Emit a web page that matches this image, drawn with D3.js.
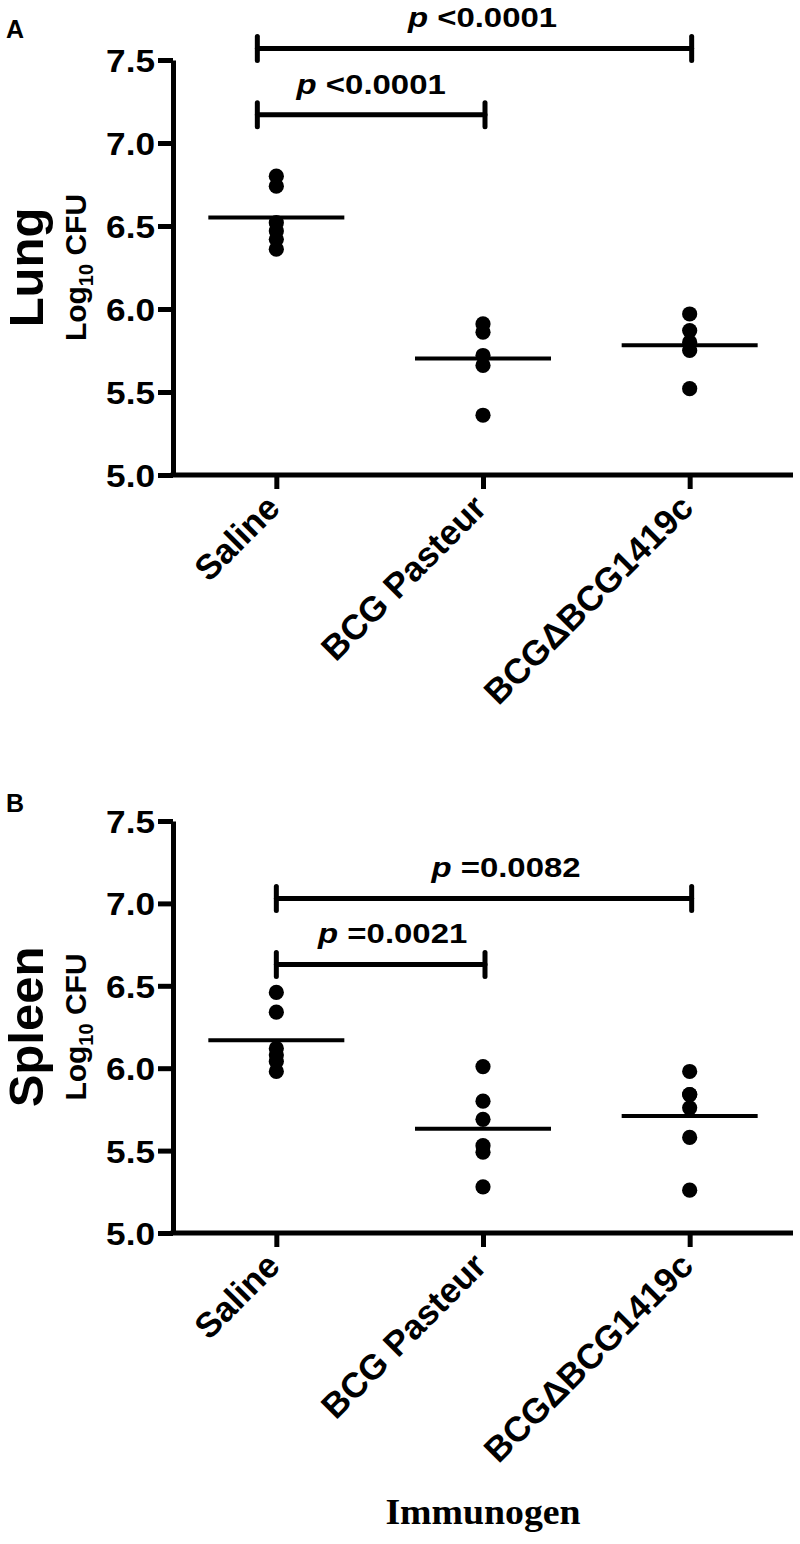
<!DOCTYPE html>
<html>
<head>
<meta charset="utf-8">
<script src="https://cdn.jsdelivr.net/npm/d3@7/dist/d3.min.js"></script>
<style>
  html, body { margin: 0; padding: 0; background: #fff; }
  svg { display: block; }
</style>
</head>
<body>
<svg id="chart" width="800" height="1544"></svg>
<script>
// ---------------- DATA ----------------
const categories = ["Saline", "BCG Pasteur", "BCGΔBCG1419c"];
const yTicks = [5.0, 5.5, 6.0, 6.5, 7.0, 7.5];

// Panel A – Lung (Log10 CFU)
const lungSaline  = [6.80, 6.74, 6.52, 6.47, 6.42, 6.36];
const lungPasteur = [5.91, 5.86, 5.72, 5.66, 5.36];
const lungDelta   = [5.97, 5.87, 5.80, 5.75, 5.52];

// Panel B – Spleen (Log10 CFU)
const spleenSaline  = [6.46, 6.34, 6.12, 6.08, 6.04, 5.98];
const spleenPasteur = [6.01, 5.80, 5.69, 5.53, 5.49, 5.28];
const spleenDelta   = [5.98, 5.84, 5.84, 5.76, 5.58, 5.26];

// Significance comparisons (bracket level in Log10 CFU units)
const lungComparisons = [
  { from: "Saline", to: "BCGΔBCG1419c", level: 7.57, op: "<", p: "0.0001" },
  { from: "Saline", to: "BCG Pasteur",  level: 7.17, op: "<", p: "0.0001" }
];
const spleenComparisons = [
  { from: "Saline", to: "BCGΔBCG1419c", level: 7.03, op: "=", p: "0.0082" },
  { from: "Saline", to: "BCG Pasteur",  level: 6.63, op: "=", p: "0.0021" }
];

const panelLetters = ["A", "B"];
const organs = ["Lung", "Spleen"];
const xTitle = "Immunogen";

// ---------------- DRAW ----------------
const svg = d3.select("#chart");
const SANS = "'Liberation Sans', Arial, sans-serif";

const panels = [
  { letter: panelLetters[0], organ: organs[0], groups: [lungSaline, lungPasteur, lungDelta],
    comps: lungComparisons, top: 60, bottom: 475, letterY: 38, bracketShift: -19, textShift: [8, 0] },
  { letter: panelLetters[1], organ: organs[1], groups: [spleenSaline, spleenPasteur, spleenDelta],
    comps: spleenComparisons, top: 821, bottom: 1233, letterY: 812, bracketShift: 0, textShift: [22, 12] }
];

const x = d3.scalePoint().domain(categories).range([173, 793]).padding(0.5);

panels.forEach(P => {
  const y = d3.scaleLinear().domain([5, 7.5]).range([P.bottom, P.top]);
  const g = svg.append("g");

  // panel letter
  g.append("text").attr("x", 6).attr("y", P.letterY)
    .attr("font-family", SANS).attr("font-weight", "bold").attr("font-size", 25)
    .text(P.letter);

  // Y axis
  const yAxis = g.append("g").attr("transform", "translate(173,0)")
    .call(d3.axisLeft(y).tickValues(yTicks).tickFormat(d3.format(".1f")).tickSize(15).tickSizeOuter(0));
  yAxis.select(".domain").attr("stroke-width", 5).attr("stroke", "#000");
  yAxis.selectAll(".tick line").attr("stroke-width", 5).attr("stroke", "#000");
  const sxT = 1.1;
  yAxis.selectAll(".tick text")
    .attr("font-family", SANS).attr("font-weight", "bold").attr("font-size", 32)
    .attr("fill", "#000")
    .attr("x", -18 / sxT).attr("dy", "0.36em")
    .attr("transform", `scale(${sxT},1)`);

  // X axis
  const xAxis = g.append("g").attr("transform", `translate(0,${P.bottom})`)
    .call(d3.axisBottom(x).tickSize(14).tickSizeOuter(0));
  xAxis.select(".domain").attr("stroke-width", 5).attr("stroke", "#000")
    .attr("d", `M170.5,0H793`);
  xAxis.selectAll(".tick line").attr("stroke-width", 5).attr("stroke", "#000");
  xAxis.selectAll(".tick text").remove();
  xAxis.selectAll(".tick").append("text")
    .attr("font-family", SANS).attr("font-weight", "bold").attr("font-size", 35)
    .attr("fill", "#000").attr("text-anchor", "end")
    .attr("transform", "translate(5,35) rotate(-45)")
    .text(d => d);

  // Y title: organ + Log10 CFU
  const cy = (P.top + P.bottom) / 2;
  g.append("text")
    .attr("transform", `translate(43,${cy}) rotate(-90)`)
    .attr("text-anchor", "middle")
    .attr("font-family", SANS).attr("font-weight", "bold").attr("font-size", 49)
    .text(P.organ);
  const t2 = g.append("text")
    .attr("transform", `translate(86,${cy}) rotate(-90)`)
    .attr("text-anchor", "middle")
    .attr("font-family", SANS).attr("font-weight", "bold").attr("font-size", 30);
  t2.append("tspan").text("Log");
  t2.append("tspan").attr("font-size", 20).attr("dy", 7).text("10");
  t2.append("tspan").attr("dy", -7).text(" CFU");

  // points
  P.groups.forEach((vals, i) => {
    const cx = x(categories[i]);
    g.append("g").selectAll("circle").data(vals).join("circle")
      .attr("cx", cx).attr("cy", d => y(d)).attr("r", 7.6).attr("fill", "#000");
    const m = d3.mean(vals);
    g.append("line")
      .attr("x1", cx - 68).attr("x2", cx + 68)
      .attr("y1", y(m)).attr("y2", y(m))
      .attr("stroke", "#000").attr("stroke-width", 4);
  });

  // brackets
  P.comps.forEach((c, k) => {
    const x1 = x(c.from) + P.bracketShift, x2 = x(c.to) + 2;
    const yy = y(c.level);
    const bg = g.append("g").attr("stroke", "#000").attr("stroke-width", 5)
      .attr("stroke-linecap", "round");
    bg.append("line").attr("x1", x1).attr("x2", x2).attr("y1", yy).attr("y2", yy);
    bg.append("line").attr("x1", x1).attr("x2", x1).attr("y1", yy - 12).attr("y2", yy + 12);
    bg.append("line").attr("x1", x2).attr("x2", x2).attr("y1", yy - 12).attr("y2", yy + 12);

    const sxP = 1.22;
    const tx = (x1 + x2) / 2 + P.textShift[k];
    const t = g.append("text")
      .attr("transform", `translate(${tx},${yy - 21}) scale(${sxP},1)`)
      .attr("text-anchor", "middle")
      .attr("font-family", SANS).attr("font-weight", "bold").attr("font-size", 27);
    t.append("tspan").attr("font-style", "italic").text("p");
    t.append("tspan").text(" " + c.op + c.p);
  });
});

// X title
svg.append("text")
  .attr("transform", "translate(483,1524) scale(1.08,1)")
  .attr("text-anchor", "middle")
  .attr("font-family", "'Liberation Serif', 'Times New Roman', serif")
  .attr("font-weight", "bold").attr("font-size", 35)
  .text(xTitle);
</script>
</body>
</html>
